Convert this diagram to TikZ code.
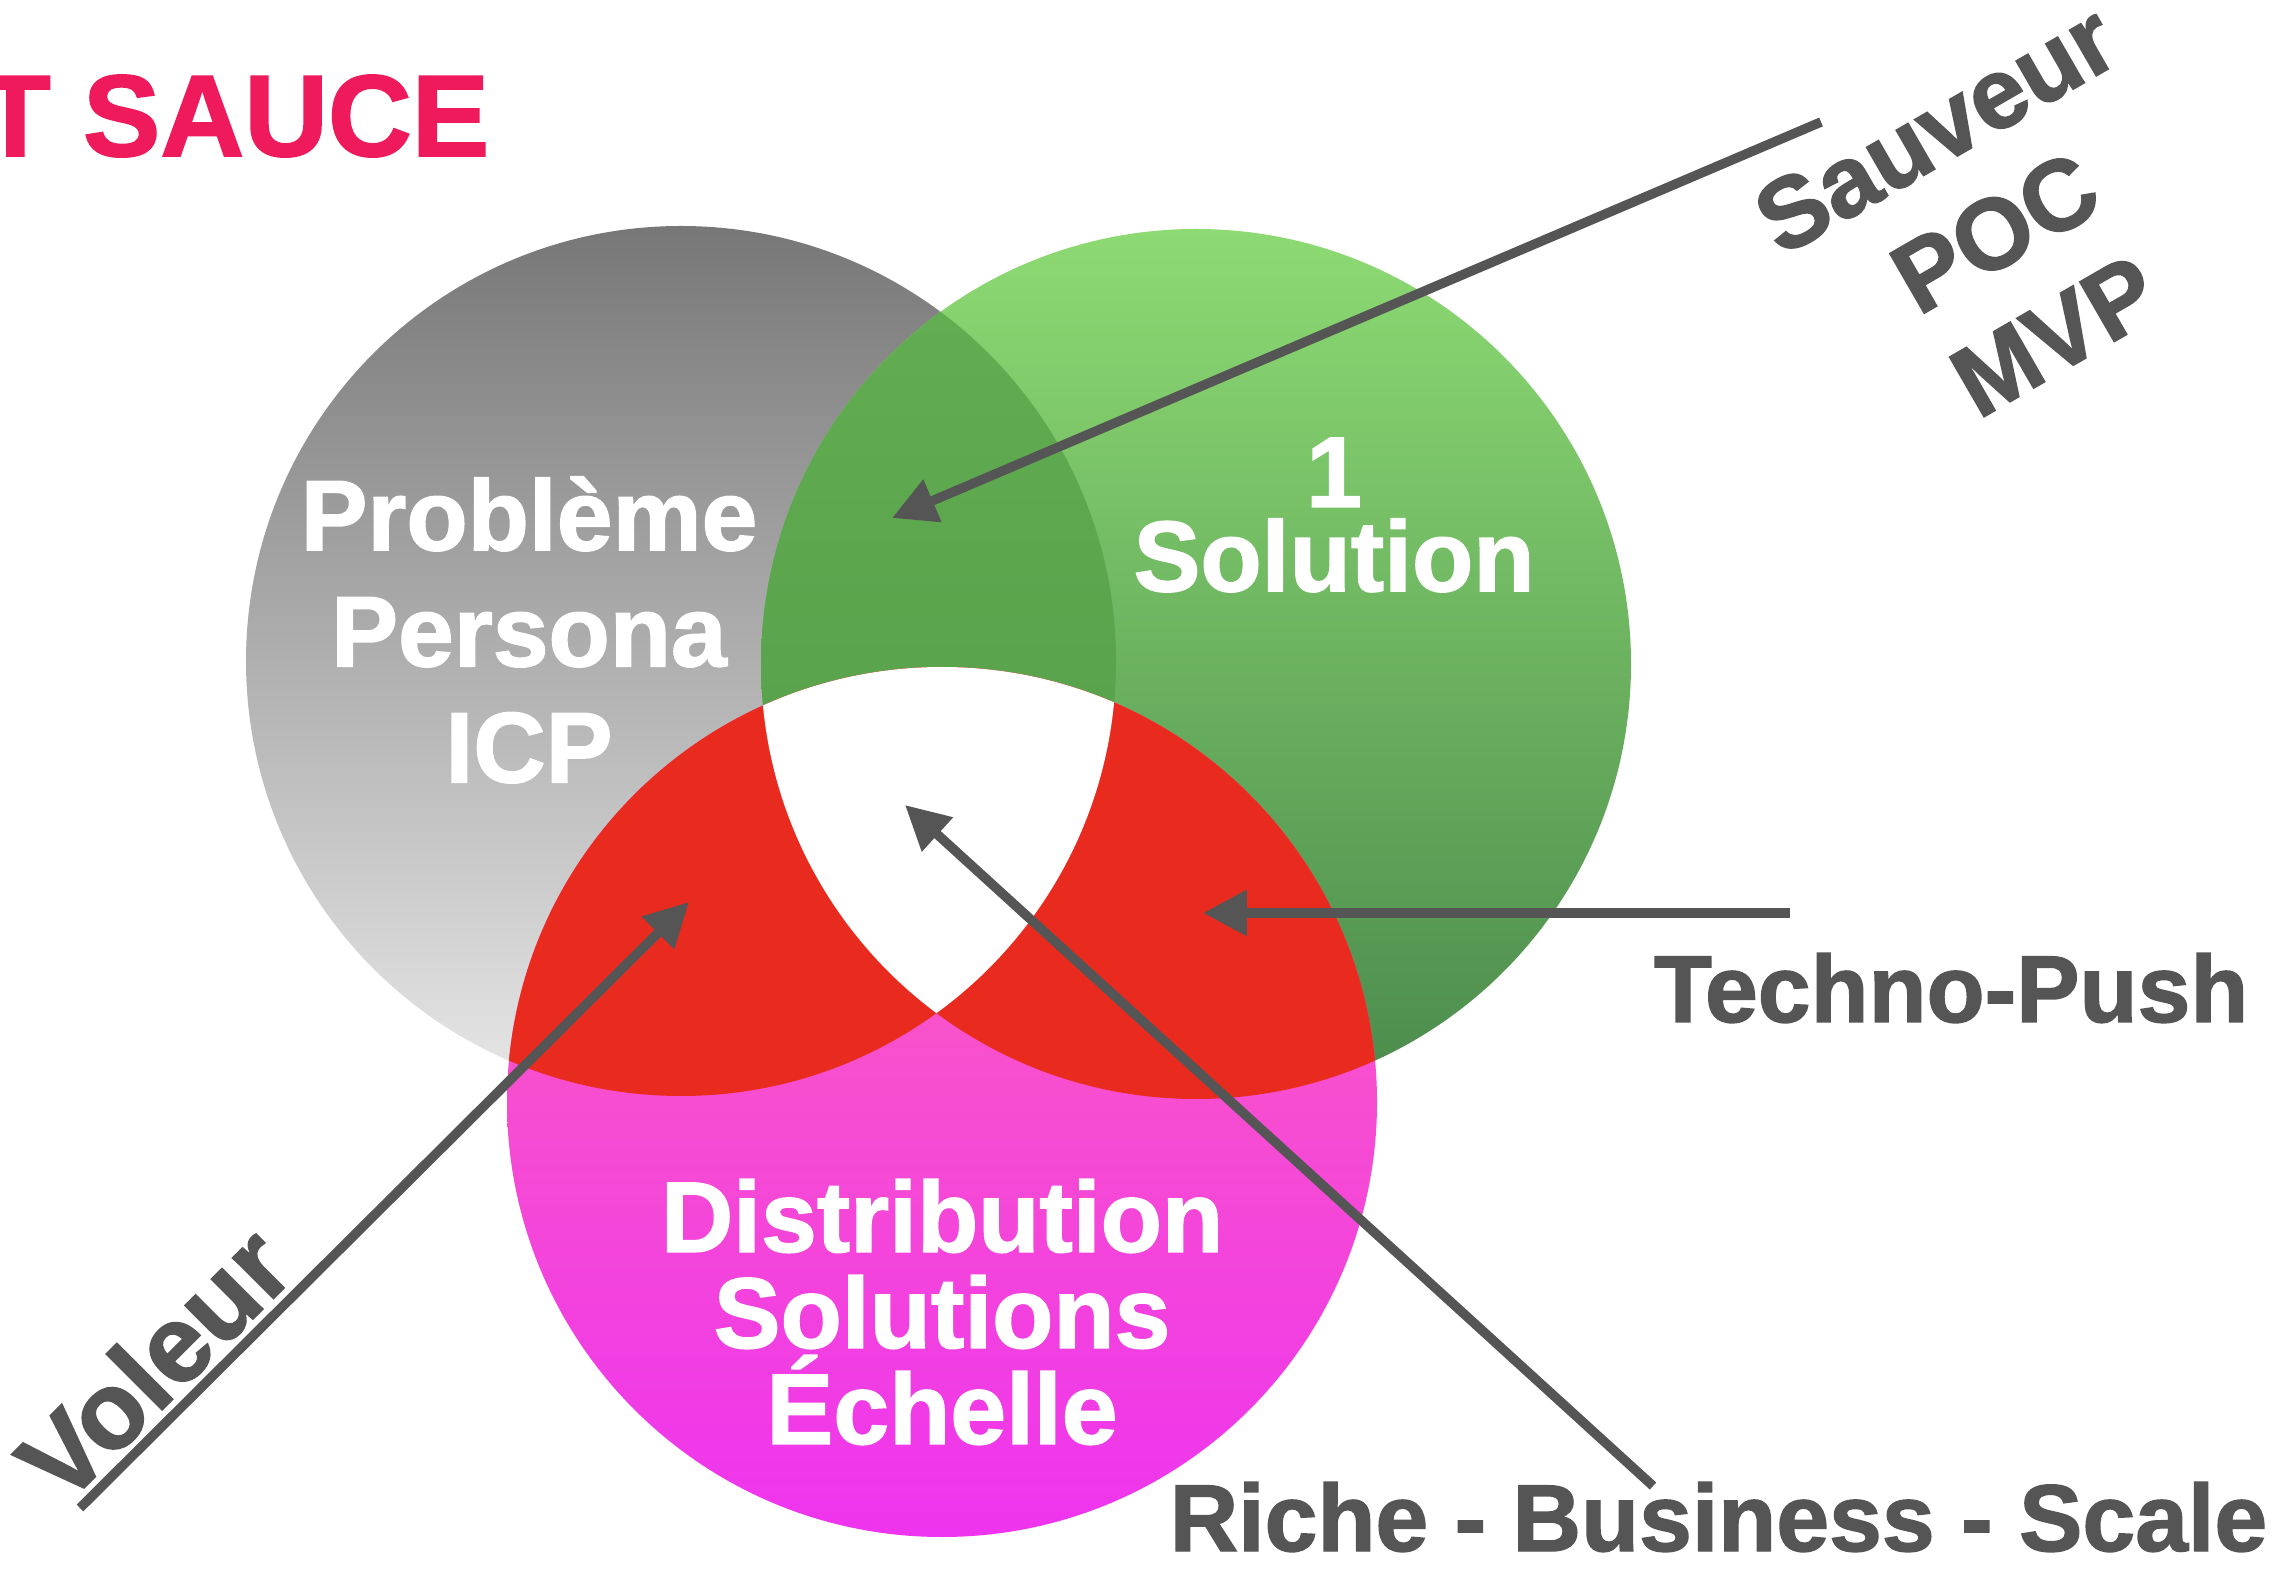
\documentclass[tikz,border=0pt]{standalone}
\usepackage{fontspec}
\setmainfont{Liberation Sans}[BoldFeatures={FakeBold=1.5}]
\usetikzlibrary{arrows.meta}
\definecolor{grayTop}{HTML}{777777}
\definecolor{grayBot}{HTML}{E8E8E8}
\definecolor{greenTop}{HTML}{8DDA73}
\definecolor{greenBot}{HTML}{4A8A4C}
\definecolor{olapTop}{HTML}{64AE52}
\definecolor{olapBot}{HTML}{4F9A47}
\definecolor{pinkTop}{HTML}{FF66B4}
\definecolor{pinkBot}{HTML}{EE34EE}
\definecolor{redFill}{HTML}{E92B1F}
\definecolor{arrowGray}{HTML}{555555}
\definecolor{titlePink}{HTML}{EE1A5C}
\tikzset{
  arr/.style={draw=arrowGray, line width=2.7pt, -{Triangle[length=12.5pt,width=12.5pt]}},
  lbl/.style={text=arrowGray, inner sep=0pt, font=\bfseries\fontsize{27}{34}\selectfont},
  inlbl/.style={text=white, inner sep=0pt, align=center},
  ttl/.style={text=titlePink, inner sep=0pt, font=\bfseries\fontsize{33}{40}\selectfont}
}
\begin{document}
\begin{tikzpicture}[x=0.01cm,y=0.01cm]
\useasboundingbox (0,-1580) rectangle (2273,0);
\fill[white] (0,-1580) rectangle (2273,0);
\def\R{435}
\coordinate (G) at (681,-661);
\coordinate (Gr) at (1196,-664);
\coordinate (P) at (942,-1102);
% base circles
\shade[top color=grayTop, bottom color=grayBot] (G) circle (\R);
\shade[top color=greenTop, bottom color=greenBot] (Gr) circle (\R);
\shade[top color=pinkTop, bottom color=pinkBot] (P) circle (\R);
% gray & green overlap
\begin{scope}
  \clip (G) circle (\R);
  \shade[top color=olapTop, bottom color=olapBot] (Gr) circle (\R);
\end{scope}
% overlaps with pink
\begin{scope}
  \clip (P) circle (\R);
  \fill[redFill] (G) circle (\R);
  \fill[redFill] (Gr) circle (\R);
\end{scope}
% centre
\begin{scope}
  \clip (P) circle (\R);
  \clip (G) circle (\R);
  \fill[white] (Gr) circle (\R);
\end{scope}

% title
\node[ttl, anchor=base east] (title) at (490,-156) {T SAUCE};

% inner labels
\node[inlbl, font=\bfseries\fontsize{28.5}{33}\selectfont] (prob) at (529,-630) {Problème\\Persona\\ICP};
\node[inlbl, font=\bfseries\fontsize{28.5}{24}\selectfont] (sol) at (1334,-515) {1\\Solution};
\node[inlbl, font=\bfseries\fontsize{28.5}{27.3}\selectfont] (dist) at (942,-1312) {Distribution\\Solutions\\Échelle};

% outer labels
\node[lbl, align=center, rotate=30, font=\bfseries\fontsize{28.5}{34}\selectfont] (sauveur) at (1995,-232) {Sauveur\\POC\\MVP};
\node[lbl, rotate=45, anchor=base, font=\bfseries\fontsize{31}{34}\selectfont] (voleur) at (181,-1391) {Voleur};
\node[lbl, anchor=base east] (techno) at (2249,-1022) {Techno-Push};
\node[lbl, anchor=base east] (riche) at (2268,-1551) {Riche - Business - Scale};

% connector ends
\coordinate (sauveurStart) at (1821,-122);
\coordinate (sauveurTip) at (892,-518);
\coordinate (voleurStart) at (80,-1508);
\coordinate (voleurTip) at (689,-902);
\coordinate (technoStart) at (1790,-913);
\coordinate (technoTip) at (1203,-913);
\coordinate (richeStart) at (1653,-1486);
\coordinate (richeTip) at (905,-805);

\draw[arr] (sauveurStart) -- (sauveurTip);
\draw[arr] (voleurStart) -- (voleurTip);
\draw[arr] (technoStart) -- (technoTip);
\draw[arr] (richeStart) -- (richeTip);
\end{tikzpicture}
\end{document}
